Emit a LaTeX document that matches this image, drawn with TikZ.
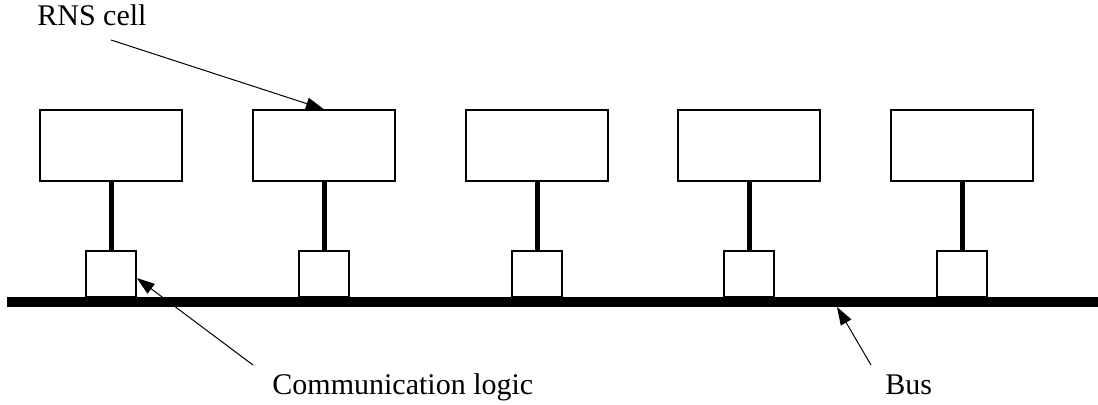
\documentclass[tikz,border=0pt]{standalone}
\usepackage{fontspec}
\setmainfont{Liberation Serif}
\usetikzlibrary{arrows.meta}
\begin{document}
\begin{tikzpicture}[x=0.5pt,y=-0.5pt,
  cellbox/.style={draw, line width=0.75pt, minimum width=71pt, minimum height=35.5pt, inner sep=0pt},
  logicbox/.style={draw, line width=0.75pt, minimum width=25pt, minimum height=23pt, inner sep=0pt},
  link/.style={line width=2.5pt},
  busline/.style={line width=5pt},
  pointer/.style={line width=0.5pt, -{Triangle[length=9pt,width=6pt]}},
  lbl/.style={font=\fontsize{15}{17}\selectfont, inner sep=0pt, anchor=base west}]
\useasboundingbox (0,0) rectangle (1098,405);
\foreach \i/\x in {1/111,2/324,3/537,4/749,5/962}{
  \node[cellbox] (cell\i) at (\x,145.5) {};
  \node[logicbox] (logic\i) at (\x,274) {};
  \draw[link] (cell\i.south) -- (logic\i.north);
}
\coordinate (busL) at (7,302);
\coordinate (busR) at (1098,302);
\draw[busline] (busL) -- (busR);
\node[lbl] (rns) at (37,26) {RNS cell};
\node[lbl] (comm) at (272,395) {Communication logic};
\node[lbl] (bus) at (885,395) {Bus};
\coordinate (rnsT) at (111,40);
\coordinate (commT) at (253,365);
\coordinate (busT) at (871,365);
\coordinate (busTip) at (837,307);
\draw[pointer] (rnsT) -- (cell2.north);
\draw[pointer] (commT) -- ([yshift=-2pt]logic1.east);
\draw[pointer] (busT) -- (busTip);
\end{tikzpicture}
\end{document}
